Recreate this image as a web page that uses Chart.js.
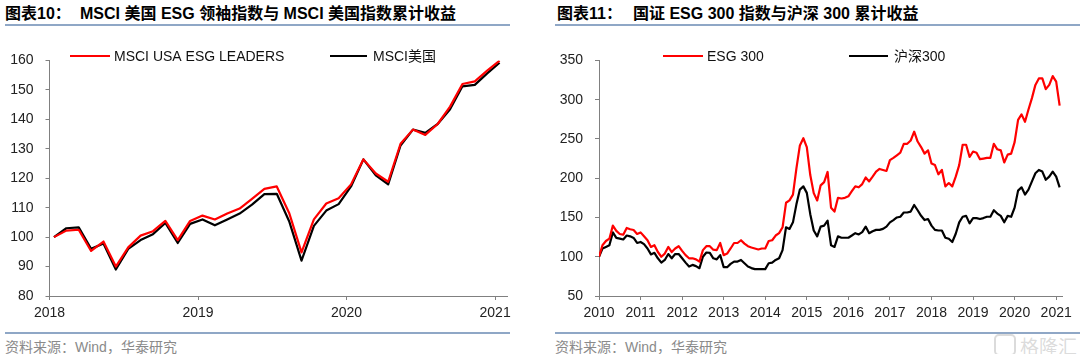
<!DOCTYPE html>
<html lang="zh-CN">
<head>
  <meta charset="UTF-8">
  <title>ESG 指数累计收益</title>
  <script src="https://cdn.jsdelivr.net/npm/chart.js"></script>
  <style>
    body {
      margin: 0;
      width: 1080px;
      height: 354px;
      background: #fff;
      position: relative;
      overflow: hidden;
      font-family: "Liberation Sans", Arial, "Noto Sans CJK SC", sans-serif;
    }
    .title { position: absolute; top: 4px; font-size: 16px; font-weight: bold; color: #000; white-space: nowrap; line-height: 20px; }
    .rule { position: absolute; height: 2px; background: #8fa7c6; }
    .src { position: absolute; top: 338px; font-size: 14px; color: #8a8a8a; white-space: nowrap; line-height: 18px; }
    .mark { position: absolute; left: 1020px; top: 332px; font-size: 19px; color: rgba(175,175,175,0.45); font-family: "Noto Sans CJK SC"; }
    .mark-box { position: absolute; left: 994px; top: 334px; width: 18px; height: 18px; border: 2px solid rgba(175,175,175,0.45); border-radius: 5px; }
    canvas { position: absolute; top: 40px; }
  </style>
</head>
<body>
  <div class="title" style="left:5px">图表10：</div>
  <div class="title" style="left:80px">MSCI 美国 ESG 领袖指数与 MSCI 美国指数累计收益</div>
  <div class="title" style="left:557px">图表11：</div>
  <div class="title" style="left:633px">国证 ESG 300 指数与沪深 300 累计收益</div>
  <div class="rule" style="left:5px; top:24px; width:505px"></div>
  <div class="rule" style="left:555px; top:24px; width:525px"></div>
  <div class="rule" style="left:5px; top:332px; width:505px"></div>
  <div class="rule" style="left:555px; top:332px; width:525px"></div>
  <div class="src" style="left:5px">资料来源：Wind，华泰研究</div>
  <div class="src" style="left:555px">资料来源：Wind，华泰研究</div>
  <div class="mark-box"></div>
  <div class="mark">格隆汇</div>

  <canvas id="usChart" width="525" height="290" style="left:0px"></canvas>
  <canvas id="cnChart" width="535" height="290" style="left:545px"></canvas>

  <script>
    // MSCI (monthly, from Jan 2018)
    const usYears = ['2018', '2019', '2020', '2021'];
    const esgLeaders = [100, 102.2, 102.5, 95.3, 98.5, 90, 96.5, 100.5, 102, 105.5, 99, 105.5,
      107.3, 106, 108, 109.7, 113, 116.4, 117.2, 108.2, 94.8, 106, 111.4, 113.2,
      117.9, 126.4, 121.6, 118.8, 131.7, 136.5, 134.7, 138.4, 144.3, 152, 152.9, 156.5, 159.9];
    const msciUsa = [100, 103, 103.3, 96, 97.8, 89, 96, 99, 101, 104.8, 98, 104.5,
      106, 104, 106, 108, 111, 114.6, 114.7, 105.4, 92, 103.8, 109, 111.2,
      117.2, 126.4, 121, 117.9, 131.1, 136.5, 135.4, 138.4, 143.4, 151.2, 151.7, 155.6, 159.2];

    // 国证 ESG 300 / 沪深300 (monthly, from Jan 2010)
    const cnYears = ['2010', '2011', '2012', '2013', '2014', '2015', '2016', '2017', '2018', '2019', '2020', '2021'];
    const esg300 = [100, 114.6, 120, 123, 139.6, 133, 129, 128, 136.7, 135, 134, 129,
      131, 126, 121, 112.5, 114.6, 106, 100, 104, 112.5, 106, 110.5, 113.4,
      107.5, 102, 98, 98, 96.7, 93.8, 108.4, 113.4, 113.4, 109, 108.4, 117.5,
      102, 104, 110.5, 117.5, 117.5, 121, 116.7, 113.4, 111.7, 110.5, 109.2, 110.5,
      110.5, 120, 121, 127, 130, 137.5, 168.7, 171.7, 179, 212.5, 241.7, 250.9,
      239.6, 204, 181, 171.7, 190.9, 195, 208, 162.5, 157.5, 175, 174.2, 175,
      177, 183.4, 189.6, 188.4, 192.5, 200.9, 195.9, 202, 208.4, 211.8, 210.5, 209.2,
      223, 225.9, 229.2, 232.5, 243.8, 243.8, 248, 259.2, 246.7, 239.6, 231.3, 235.5,
      218.8, 216.7, 205, 210.5, 189.6, 193.8, 189.6, 202, 216.7, 242.6, 242.6, 227,
      234, 232.5, 224.2, 225, 225.9, 225.9, 243.8, 236.8, 235.5, 220, 230, 231.3,
      245.9, 274.3, 281.3, 271.8, 287.5, 302, 318.8, 327, 327, 313.4, 318.8, 330,
      323, 292.5];
    const hs300 = [100, 110.5, 112.5, 114.6, 131, 124, 123, 122, 127, 126, 124, 117.5,
      118.8, 116, 110.5, 103, 105, 98, 92.5, 95.9, 103.4, 98, 103.4, 103.4,
      98, 92.5, 87.5, 89.6, 88, 85.4, 100, 105.4, 105, 98, 96.7, 102,
      86.7, 86.7, 90.9, 93.8, 93.8, 95.9, 91.7, 87.5, 85.5, 84.2, 84.2, 84.2,
      84.2, 91.7, 92.5, 95.9, 98, 108.4, 137.5, 135.4, 143.8, 166.7, 185.5, 189.6,
      181.3, 154.2, 133.4, 125.9, 138.4, 139.6, 145.9, 114.6, 112.5, 125.9, 124.2, 124.2,
      124.2, 127, 130, 128.4, 131.3, 138.4, 130, 132.5, 134.2, 134.2, 135.4, 138.4,
      143.8, 146.7, 150, 150.9, 156.3, 156.3, 157.5, 165.9, 159.2, 152.1, 146.7, 148,
      139.6, 134.2, 133.4, 133.4, 124.2, 122.9, 118.8, 129.2, 143.8, 150.9, 152, 142.5,
      149.2, 149.2, 148, 149.2, 150.9, 150.9, 159.2, 155, 152, 143.8, 152, 150.9,
      162.5, 184.2, 188.4, 179.2, 185.5, 195.9, 206.3, 210.5, 208.4, 198, 202, 208.4,
      202, 188.4];

    const axisGrey = '#808080';
    const tickFont = { family: '"Liberation Sans", Arial, sans-serif', size: 14 };

    // legend drawn inside the plot, at fixed spots like the source
    const innerLegend = {
      id: 'innerLegend',
      afterDraw(chart, args, opts) {
        const ctx = chart.ctx;
        ctx.save();
        ctx.font = '14px "Liberation Sans", Arial, "Noto Sans CJK SC", sans-serif';
        ctx.textBaseline = 'middle';
        chart.data.datasets.forEach((ds, i) => {
          const it = opts.items[i];
          ctx.strokeStyle = ds.borderColor;
          ctx.lineWidth = 2;
          ctx.beginPath();
          ctx.moveTo(it.x0, opts.y);
          ctx.lineTo(it.x1, opts.y);
          ctx.stroke();
          ctx.fillStyle = '#111';
          ctx.fillText(ds.label, it.tx, opts.y + 1);
        });
        ctx.restore();
      }
    };

    function lineSet(label, color, values, xOf) {
      return {
        label: label,
        data: values.map((v, i) => ({ x: xOf(i), y: v })),
        borderColor: color,
        borderWidth: 2.2,
        pointRadius: 0,
        tension: 0,
        borderJoinStyle: 'round',
        fill: false
      };
    }

    function makeChart(id, sets, years, xMin, xMax, yMin, yMax, yStep, yWidth, padRight, legendOpts) {
      return new Chart(document.getElementById(id), {
        type: 'line',
        data: { datasets: sets },
        options: {
          responsive: false,
          animation: false,
          devicePixelRatio: 1,
          layout: { padding: { top: 17, right: padRight, left: 0, bottom: 0 } },
          plugins: {
            legend: { display: false },
            tooltip: { enabled: false },
            innerLegend: legendOpts
          },
          scales: {
            x: {
              type: 'linear',
              min: xMin,
              max: xMax,
              afterBuildTicks: s => { s.ticks = years.map(y => ({ value: +y })); },
              afterFit: s => { s.height = 34; },
              ticks: {
                autoSkip: false,
                maxRotation: 0,
                padding: 5,
                color: '#222',
                font: tickFont,
                callback: v => years[years.indexOf(String(v))]
              },
              grid: { drawOnChartArea: false, tickLength: 4, color: axisGrey },
              border: { color: axisGrey }
            },
            y: {
              min: yMin,
              max: yMax,
              afterFit: s => { s.width = yWidth; },
              ticks: { stepSize: yStep, padding: 12, color: '#222', font: tickFont },
              grid: { drawOnChartArea: false, tickLength: 4, color: axisGrey },
              border: { color: axisGrey }
            }
          }
        },
        plugins: [innerLegend]
      });
    }

    makeChart('usChart', [
      lineSet('MSCI USA ESG LEADERS', '#ff0000', esgLeaders, i => 2018 + (i + 0.36) / 12),
      lineSet('MSCI美国', '#000000', msciUsa, i => 2018 + (i + 0.36) / 12)
    ], usYears, 2018, 2021.08, 80, 160, 10, 49.5, 18,
      { y: 16, items: [{ x0: 70, x1: 110, tx: 114 }, { x0: 330, x1: 367, tx: 373 }] });

    makeChart('cnChart', [
      lineSet('ESG 300', '#ff0000', esg300, i => 2010 + i / 12),
      lineSet('沪深300', '#000000', hs300, i => 2010 + i / 12)
    ], cnYears, 2010, 2021.14, 50, 350, 50, 54, 18,
      { y: 16, items: [{ x0: 118, x1: 158, tx: 162 }, { x0: 304, x1: 343, tx: 349 }] });
  </script>
</body>
</html>
